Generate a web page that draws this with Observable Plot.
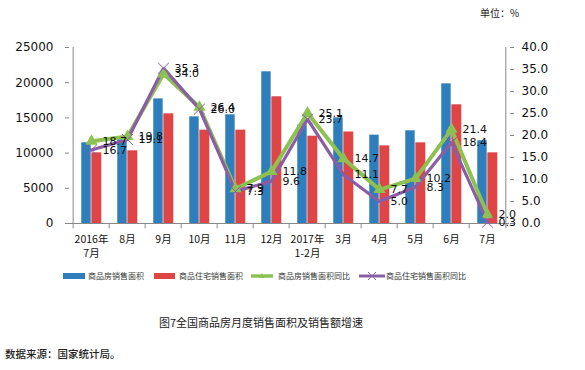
<!DOCTYPE html>
<html>
<head>
<meta charset="utf-8">
<script src="https://cdn.jsdelivr.net/npm/d3@7"></script>
<script src="https://cdn.jsdelivr.net/npm/@observablehq/plot@0.6"></script>
<style>
  html, body { margin: 0; padding: 0; background: #fff; }
  #wrap { position: relative; width: 585px; height: 370px; overflow: hidden; font-family: "Noto Sans CJK SC", "DejaVu Sans", sans-serif; }
  #chart { position: absolute; left: 0; top: 0; }
  .abs { position: absolute; white-space: nowrap; color: #222; }
  #legend { position: absolute; left: 0; top: 270px; width: 585px; height: 14px; font-size: 8px; color: #333; }
  #legend .sw { position: absolute; top: 0; }
  #legend .txt { position: absolute; top: 0; line-height: 12px; }
</style>
</head>
<body>
<div id="wrap">
  <div id="chart"></div>
  <div class="abs" id="unit" style="left:480px; top:5px; font-size:10px;">单位：%</div>
  <div id="legend"></div>
  <div class="abs" id="title" style="left:0; width:522px; text-align:center; top:314px; font-size:11px;">图7全国商品房月度销售面积及销售额增速</div>
  <div class="abs" id="source" style="left:5px; top:346px; font-size:10.5px; font-weight:500;">数据来源：国家统计局。</div>
</div>
<script>
const categories = ["2016年\n7月","8月","9月","10月","11月","12月","2017年\n1-2月","3月","4月","5月","6月","7月"];
const houseArea = [11460, 11900, 17700, 15150, 15440, 21550, 14000, 15000, 12550, 13170, 19840, 11750];
const residArea = [10040, 10330, 15580, 13260, 13260, 18000, 12400, 13000, 11030, 11460, 16860, 10040];
const houseYoY = [18.7, 19.8, 34.0, 26.4, 7.9, 11.8, 25.1, 14.7, 7.7, 10.2, 21.4, 2.0];
const residYoY = [16.7, 19.1, 35.3, 26.0, 7.3, 9.6, 23.7, 11.1, 5.0, 8.3, 18.4, 0.3];
const seriesNames = ["商品房销售面积", "商品住宅销售面积", "商品房销售面积同比", "商品住宅销售面积同比"];
const leftTicks = [0, 5000, 10000, 15000, 20000, 25000];
const rightTicks = [0, 5, 10, 15, 20, 25, 30, 35, 40];

const colors = ["#2f7ebc", "#e04546", "#8dc152", "#8a5ea6"];
const LMAX = 25000, RMAX = 40, K = LMAX / RMAX;

const rows = categories.map((c, i) => ({
  cat: c, house: houseArea[i], resid: residArea[i],
  hy: houseYoY[i], ry: residYoY[i]
}));

const W = 585, H = 370, mL = 69, mR = 76, mT = 47, mB = 147;
const bw = (W - mL - mR) / categories.length;
const font = "'DejaVu Sans', 'Noto Sans CJK SC', sans-serif";

const chart = Plot.plot({
  width: W, height: H,
  marginLeft: mL, marginRight: mR, marginTop: mT, marginBottom: mB,
  style: { fontFamily: font, fontSize: "10.5px", color: "#111", background: "transparent" },
  x: { type: "band", domain: categories, padding: 0, axis: null },
  y: { domain: [0, LMAX], axis: null },
  marks: [
    Plot.barY(rows, { x: "cat", y: "house", fill: colors[0], insetLeft: bw * 0.225, insetRight: bw * 0.5 }),
    Plot.barY(rows, { x: "cat", y: "resid", fill: colors[1], insetLeft: bw * 0.5, insetRight: bw * 0.21 }),
    // axes lines
    Plot.ruleY([0], { stroke: "#888", strokeWidth: 1 }),
    Plot.ruleX([categories[0]], { x: d => d, dx: -bw / 2, y1: 0, y2: LMAX, stroke: "#888" }),
    Plot.ruleX([categories[categories.length - 1]], { x: d => d, dx: bw / 2, y1: 0, y2: LMAX, stroke: "#888" }),
    Plot.ruleX(categories, { x: d => d, dx: -bw / 2, y1: 0, y2: -750, stroke: "#888" }),
    Plot.ruleX([categories[categories.length - 1]], { x: d => d, dx: bw / 2, y1: 0, y2: -750, stroke: "#888" }),
    Plot.axisY({ anchor: "left", ticks: leftTicks, tickSize: 4, tickPadding: 12, stroke: "#888", fontSize: 12, label: null, tickFormat: d => String(d) }),
    Plot.axisY({ anchor: "right", ticks: rightTicks.map(v => v * K), tickSize: 4, tickPadding: 8, stroke: "#888", fontSize: 12, label: null, tickFormat: d => (d / K).toFixed(1) }),
    Plot.axisX({ tickSize: 0, tickPadding: 9, fontSize: 10.5, label: null, tickFormat: d => d, fontFamily: "'Noto Sans CJK SC', sans-serif", lineHeight: 1.35 }),
    // lines
    Plot.line(rows, { x: "cat", y: d => d.hy * K, stroke: colors[2], strokeWidth: 4, strokeLinejoin: "miter" }),
    Plot.line(rows, { x: "cat", y: d => d.ry * K, stroke: colors[3], strokeWidth: 3.2, strokeLinejoin: "miter" }),
    Plot.dot(rows, { x: "cat", y: d => d.hy * K, symbol: "triangle", r: 4.5, fill: colors[2] }),
    Plot.dot(rows, { x: "cat", y: d => d.ry * K, symbol: "times", r: 5, stroke: colors[3], strokeWidth: 1 }),
    // data labels
    Plot.text(rows, { x: "cat", y: d => d.hy * K, text: d => d.hy.toFixed(1), textAnchor: "start", dx: 11, fill: "#111", fontSize: 11 }),
    Plot.text(rows, { x: "cat", y: d => d.ry * K, text: d => d.ry.toFixed(1), textAnchor: "start", dx: 11, fill: "#111", fontSize: 11 })
  ]
});
document.getElementById("chart").appendChild(chart);

// legend
const legend = document.getElementById("legend");
const swX = [63, 154, 251, 359], swW = [22, 21, 22, 26], txX = [88, 179, 278, 386];
const NS = "http://www.w3.org/2000/svg";
seriesNames.forEach((name, i) => {
  let sw;
  if (i < 2) {
    sw = document.createElement("div");
    sw.style.background = colors[i];
    sw.style.width = swW[i] + "px";
    sw.style.height = "6px";
    sw.style.top = "3px";
  } else {
    sw = document.createElementNS(NS, "svg");
    sw.setAttribute("width", swW[i]);
    sw.setAttribute("height", "12");
    const ln = document.createElementNS(NS, "line");
    ln.setAttribute("x1", "0"); ln.setAttribute("x2", swW[i]); ln.setAttribute("y1", "6"); ln.setAttribute("y2", "6");
    ln.setAttribute("stroke", colors[i]); ln.setAttribute("stroke-width", i === 2 ? "3.5" : "3");
    sw.appendChild(ln);
    const c = swW[i] / 2;
    const p = document.createElementNS(NS, "path");
    if (i === 2) {
      p.setAttribute("d", `M${c},3 L${c + 3},8 L${c - 3},8 Z`); p.setAttribute("fill", colors[i]);
    } else {
      p.setAttribute("d", `M${c - 4},2 L${c + 4},10 M${c + 4},2 L${c - 4},10`); p.setAttribute("stroke", colors[i]); p.setAttribute("stroke-width", "1");
    }
    sw.appendChild(p);
  }
  sw.classList.add("sw");
  sw.style.position = "absolute";
  sw.style.left = swX[i] + "px";
  legend.appendChild(sw);
  const t = document.createElement("span");
  t.className = "txt";
  t.style.left = txX[i] + "px";
  t.textContent = name;
  legend.appendChild(t);
});
</script>
</body>
</html>
